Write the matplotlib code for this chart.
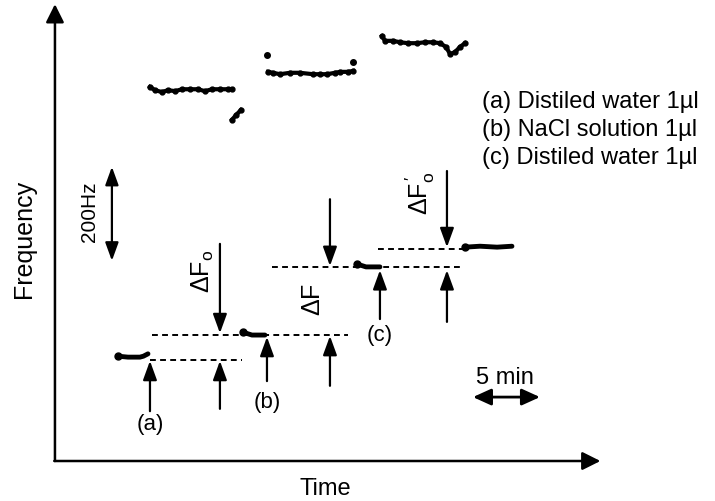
import matplotlib.pyplot as plt

plt.rcParams['font.family'] = ['Liberation Sans', 'DejaVu Sans']
plt.rcParams['mathtext.fontset'] = 'custom'
plt.rcParams['mathtext.rm'] = 'Liberation Sans'
plt.rcParams['mathtext.it'] = 'Liberation Sans'

# upper traces (time in min, frequency in Hz)
up1_t = [7.09, 7.46, 7.99, 8.43, 8.96, 9.48, 10.07, 10.67, 11.19, 11.72, 12.31, 12.91, 13.21]
up1_f = [796, 789, 785, 789, 787, 791, 791, 791, 787, 791, 791, 791, 791]
drop1_t = [13.21, 13.51, 13.88]
drop1_f = [726, 736, 747]
up2_t = [15.90, 16.27, 16.79, 17.54, 18.28, 19.25, 19.78, 20.30, 20.90, 21.27, 21.87, 22.24]
up2_f = [828, 826, 823, 826, 826, 823, 823, 823, 826, 828, 828, 830]
up2_dots_t = [15.82, 22.24]
up2_dots_f = [864, 849]
up3_t = [24.40, 24.63, 25.22, 25.75, 26.34, 27.01, 27.61, 28.21, 28.73, 29.18, 29.48, 29.85, 30.22, 30.60]
up3_f = [904, 894, 894, 891, 889, 889, 891, 891, 889, 881, 866, 870, 881, 889]

# lower step segments
low_t = [[4.70, 5.45, 6.34, 6.60, 6.94],
         [14.03, 14.70, 15.67],
         [22.54, 23.21, 24.25],
         [30.60, 31.72, 32.99, 34.10]]
low_f = [[223, 221, 221, 223, 228],
         [274, 268, 268],
         [419, 413, 413],
         [455, 457, 455, 457]]

# dotted reference levels: (t start, t end, f)
ref_lines = [(7.09, 13.96, 215), (7.24, 21.87, 268), (16.19, 30.37, 413), (24.10, 30.60, 451)]

# up arrows (t, f from, f to)
up_arrows = [(7.09, 106, 213), (12.31, 111, 213), (15.82, 170, 264),
             (20.52, 160, 266), (24.25, 302, 406), (29.25, 296, 406)]
# down arrows
down_arrows = [(12.31, 462, 272), (20.52, 557, 415), (29.25, 617, 455)]

legend_lines = ['(a) Distiled water 1µl', '(b) NaCl solution 1µl', '(c) Distiled water 1µl']
legend_f = [766, 706, 647]

fig = plt.figure(figsize=(7.15, 5.02), dpi=100)
ax = fig.add_axes([0, 0, 1, 1])
ax.set_xlim(-4.1, 49.25)
ax.set_ylim(-85.1, 983)
ax.axis('off')

k = 'black'
head = '-|>,head_length=0.55,head_width=0.2'
# axes with arrowheads
ax.annotate('', xy=(0, 972), xytext=(0, 0),
            arrowprops=dict(arrowstyle='-|>,head_length=0.5,head_width=0.25', color=k,
                            lw=1.8, mutation_scale=22, shrinkA=0, shrinkB=0))
ax.annotate('', xy=(40.7, 0), xytext=(-0.05, 0),
            arrowprops=dict(arrowstyle='-|>,head_length=0.5,head_width=0.25', color=k,
                            lw=1.8, mutation_scale=22, shrinkA=0, shrinkB=0))
ax.text(-2.3, 475, 'Frequency', rotation=90, ha='center', va='center', fontsize=18)
ax.text(20.15, -58, 'Time', ha='center', va='center', fontsize=17)

# traces
for t, f in [(up1_t, up1_f), (drop1_t, drop1_f), (up2_t, up2_f), (up3_t, up3_f)]:
    ax.plot(t, f, '-o', color=k, lw=3, ms=3.5)
ax.plot(up2_dots_t, up2_dots_f, 'o', color=k, ms=4)
for t, f in zip(low_t, low_f):
    ax.plot(t, f, '-', color=k, lw=3.5, solid_capstyle='round')
    ax.plot(t[0], f[0], 'o', color=k, ms=5)

for t0, t1, f in ref_lines:
    ax.plot([t0, t1], [f, f], color=k, lw=1.4, ls=(0, (3, 2.2)))

for t, f0, f1 in up_arrows + down_arrows:
    ax.annotate('', xy=(t, f1), xytext=(t, f0),
                arrowprops=dict(arrowstyle=head, color=k, lw=1.6, mutation_scale=21,
                                shrinkA=0, shrinkB=0))

# scale bars
ax.annotate('', xy=(4.25, 626), xytext=(4.25, 426),
            arrowprops=dict(arrowstyle='<|-|>,head_length=0.55,head_width=0.2', color=k,
                            lw=1.6, mutation_scale=20, shrinkA=0, shrinkB=0))
ax.text(2.61, 532, '200Hz', rotation=90, ha='center', va='center', fontsize=15)
ax.annotate('', xy=(36.19, 136), xytext=(31.19, 136),
            arrowprops=dict(arrowstyle='<|-|>,head_length=0.55,head_width=0.25', color=k,
                            lw=2, mutation_scale=20, shrinkA=0, shrinkB=0))
ax.text(33.6, 179, '5 min', ha='center', va='center', fontsize=17)

# labels
ax.text(7.09, 79, '(a)', ha='center', va='center', fontsize=16)
ax.text(15.82, 126, '(b)', ha='center', va='center', fontsize=16)
ax.text(24.25, 270, '(c)', ha='center', va='center', fontsize=16)
ax.text(11.04, 405, r'$\Delta\mathrm{F}_\mathrm{o}$', rotation=90, ha='center', va='center', fontsize=18)
ax.text(19.25, 345, r'$\Delta\mathrm{F}$', rotation=90, ha='center', va='center', fontsize=18)
ax.text(27.24, 572, r"$\Delta\mathrm{F}_\mathrm{o}^{\,\prime}$", rotation=90, ha='center', va='center', fontsize=18)

for s, f in zip(legend_lines, legend_f):
    ax.text(31.87, f, s, ha='left', va='center', fontsize=17)

plt.savefig('out.png', dpi=100)
